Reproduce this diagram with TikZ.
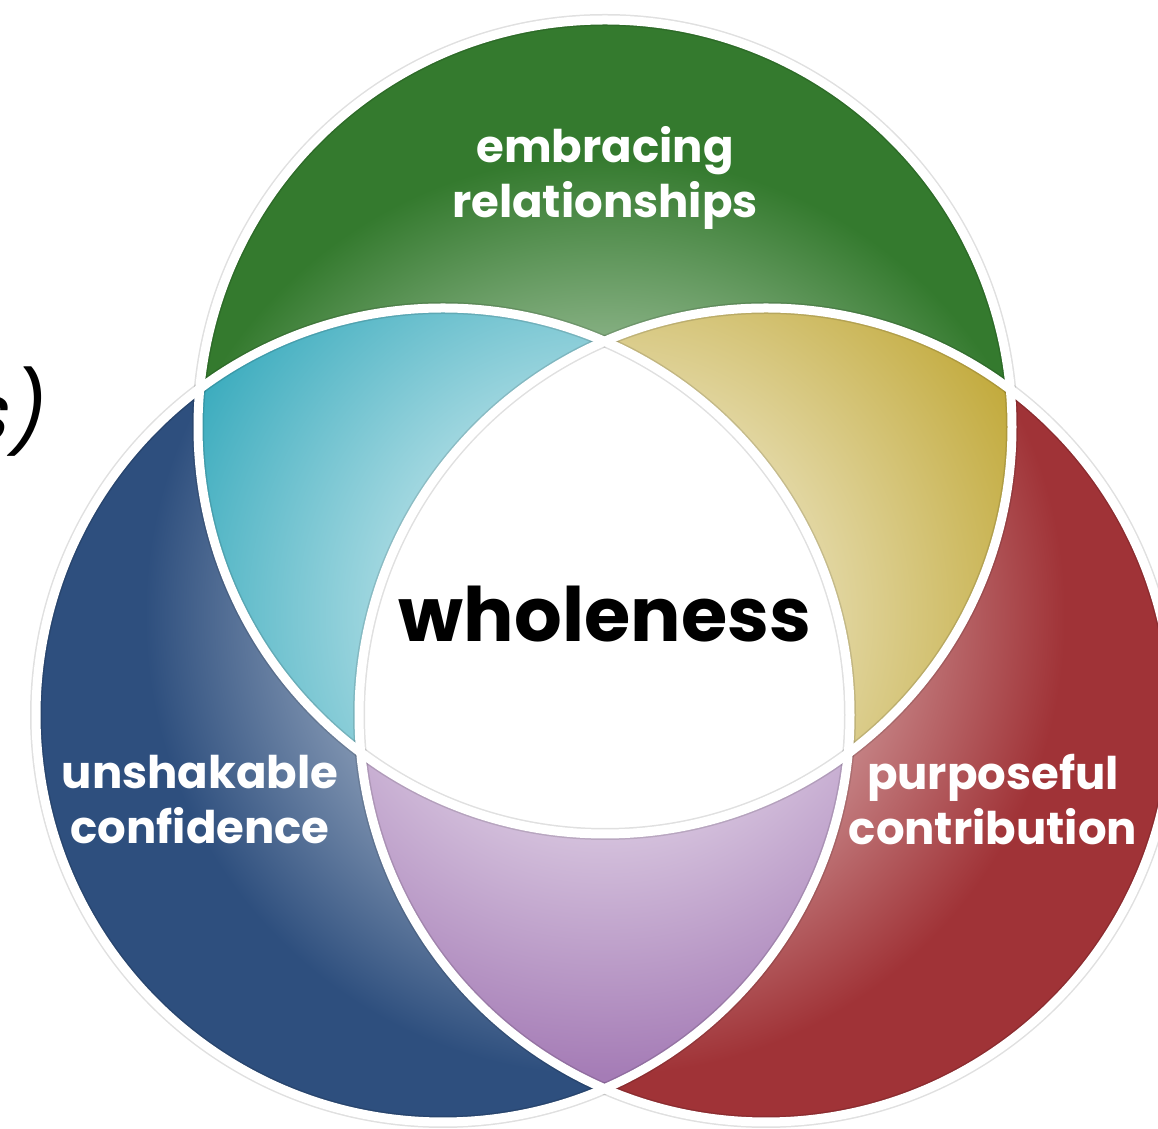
\documentclass[tikz,border=0pt]{standalone}
\usepackage{fontspec}
\setmainfont{Poppins}
\newfontfamily\slantfont{Poppins}[FakeSlant=0.2]
\definecolor{ringgreen}{RGB}{52,122,46}
\definecolor{ringblue}{RGB}{46,79,126}
\definecolor{ringred}{RGB}{160,51,55}
\definecolor{lenscyan}{RGB}{60,172,190}
\definecolor{lensyellow}{RGB}{194,170,60}
\definecolor{lenspurple}{RGB}{165,124,182}
\begin{document}
\begin{tikzpicture}[x=0.5pt, y=0.5pt,
    ringlabel/.style={text=white, align=center,
      font=\fontsize{22.5}{27.5}\selectfont\bfseries},
    glowshade/.style={inner color=white, outer color=#1}]
  \useasboundingbox[fill=white] (0,0) rectangle (1158,1129);
  \coordinate (gc) at (605,702);
  \coordinate (bc) at (443,414);
  \coordinate (rc) at (766,414);
  \coordinate (glow) at (605,514);
  \def\rad{407}
  % three rings, lighter towards the middle
  \foreach \p/\col in {gc/ringgreen, bc/ringblue, rc/ringred}{
    \fill[\col] (\p) circle (\rad);
    \begin{scope}
      \clip (\p) circle (\rad);
      \shade[glowshade=\col] (glow) circle (460);
    \end{scope}
  }
  % pairwise lenses
  \foreach \p/\q/\col in {gc/bc/lenscyan, gc/rc/lensyellow, bc/rc/lenspurple}{
    \begin{scope}
      \clip (\p) circle (\rad);
      \clip (\q) circle (\rad);
      \fill[\col] (\p) circle (\rad);
      \shade[glowshade=\col] (glow) circle (460);
    \end{scope}
  }
  % common part
  \begin{scope}
    \clip (gc) circle (\rad);
    \clip (bc) circle (\rad);
    \fill[white] (rc) circle (\rad);
  \end{scope}
  % outlines
  \foreach \p in {gc,bc,rc}
    \draw[black, opacity=0.12, line width=6pt] (\p) circle (\rad);
  \foreach \p in {gc,bc,rc}
    \draw[white, line width=4.5pt] (\p) circle (\rad);
  % labels
  \node[ringlabel] (embrace) at (605,951) {embracing\\relationships};
  \node[ringlabel] (confidence) at (200,329) {unshakable\\confidence};
  \node[ringlabel] (contribution) at (993,329) {purposeful\\contribution};
  \node[font=\fontsize{37.5}{45}\selectfont\bfseries] (whole) at (605,515) {wholeness};
  \node[font=\fontsize{40}{48}\slantfont, anchor=east] (cut) at (50,717) {s)};
\end{tikzpicture}
\end{document}
